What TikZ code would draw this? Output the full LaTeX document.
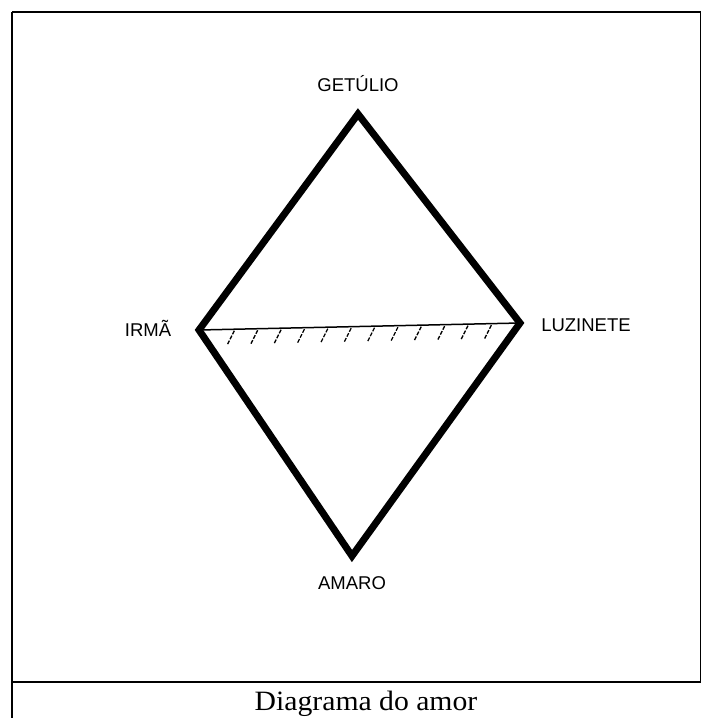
\documentclass[tikz,border=0pt]{standalone}
\usepackage{fontspec}
\setmainfont{Liberation Serif}
\newfontfamily\labelfont{Liberation Sans}
\usepackage{graphicx}
\usetikzlibrary{calc}

\begin{document}
\begin{tikzpicture}[x=1pt,y=-1pt, every node/.style={inner sep=0pt}]
\tikzstyle{person}=[font=\labelfont\fontsize{18.5}{20}\selectfont, anchor=base]
\tikzstyle{side}=[line width=7pt, line join=miter, line cap=round]
\tikzstyle{frameline}=[line width=1.3pt]
\tikzstyle{hatch}=[line width=1.3pt, dash pattern=on 4pt off 1.5pt]
\useasboundingbox (0,0) rectangle (701,718);
% frame and caption row
\coordinate (tl) at (12,12);
\coordinate (tr) at (701,12);
\coordinate (bl) at (12,718);
\coordinate (ml) at (12,682);
\coordinate (mr) at (701,682);
\draw[frameline] (tl) -- (tr);
\draw[line width=2.2pt] (tl) -- (bl);
\draw[frameline] (ml) -- (mr);
\draw[line width=1pt] (700.5,12) -- (700.5,682);
\node[anchor=base] (cap) at (366,710.5) {\scalebox{1.06}[1]{\fontsize{28}{32}\selectfont Diagrama do amor}};
% the four corners
\coordinate (getulio) at (358,114);
\coordinate (irma) at (199,330);
\coordinate (luzinete) at (520,323);
\coordinate (amaro) at (352,556);
\node[person] (lg) at (358,91) {GETÚLIO};
\node[person] (li) at (148,336) {IRMÃ};
\node[person] (ll) at (586,331) {LUZINETE};
\node[person] (la) at (352,589) {AMARO};
\draw[side] (irma) -- (getulio) -- (luzinete) -- (amaro) -- cycle;
\draw[line width=1.5pt] (irma) -- (luzinete);
\foreach \i in {0,...,11}
  \draw[hatch] ($(irma)!0.11+\i*0.0728!(luzinete)+(0,1.5)$) -- +(-7,14);
\end{tikzpicture}
\end{document}
